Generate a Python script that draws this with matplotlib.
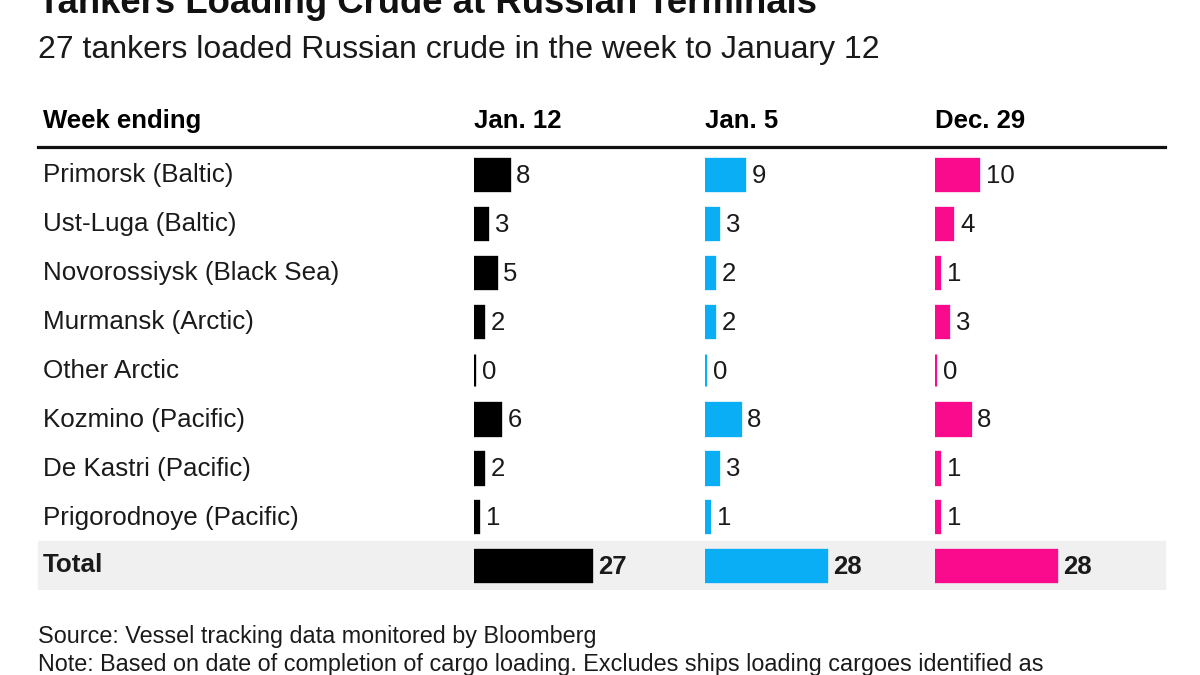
import numpy as np
import matplotlib.pyplot as plt

plt.rcParams['font.family'] = ['Liberation Sans', 'DejaVu Sans']

title = "Tankers Loading Crude at Russian Terminals"
subtitle = "27 tankers loaded Russian crude in the week to January 12"
terminals = ["Primorsk (Baltic)", "Ust-Luga (Baltic)", "Novorossiysk (Black Sea)",
             "Murmansk (Arctic)", "Other Arctic", "Kozmino (Pacific)",
             "De Kastri (Pacific)", "Prigorodnoye (Pacific)"]
weeks = ["Jan. 12", "Jan. 5", "Dec. 29"]
jan12 = [8, 3, 5, 2, 0, 6, 2, 1]
jan5 = [9, 3, 2, 2, 0, 8, 3, 1]
dec29 = [10, 4, 1, 3, 0, 8, 1, 1]
totals = [27, 28, 28]
source = "Source: Vessel tracking data monitored by Bloomberg"
note = "Note: Based on date of completion of cargo loading. Excludes ships loading cargoes identified as"

colors = ["#000000", "#0aaef5", "#fa0a8c"]
col_left = [474, 705, 935]   # pixel left edge of each bar column

W, H = 1200, 675
fig = plt.figure(figsize=(12, 6.75), dpi=100)

def fx(px):
    return px / W

def fy(px):
    return 1 - px / H

# titles
fig.text(fx(38), fy(13), title, fontsize=26.3, fontweight='bold', va='baseline', color='#111111')
fig.text(fx(38), fy(50), subtitle, fontsize=23, va='center', color='#1a1a1a')

# header
fig.text(fx(43), fy(121), "Week ending", fontsize=18.5, fontweight='bold', va='center')
for w, L in zip(weeks, col_left):
    fig.text(fx(L), fy(121), w, fontsize=18.5, fontweight='bold', va='center')

# row layout
row0, step = 174.5, 48.9
top_px = row0 - 0.5 * step
bot_px = row0 + 8.5 * step

# background axes for labels, rule and total band
bg = fig.add_axes([0, fy(bot_px), 1, (bot_px - top_px) / H])
bg.set_xlim(0, W)
bg.set_ylim(8.5, -0.5)
bg.axis('off')
bg.axhspan(7.5, 8.62, xmin=fx(38), xmax=fx(1165), color='#f0f0f0', zorder=0)
bg.plot([38, 1165], [-0.56, -0.56], color='#111111', lw=2.3, clip_on=False)
for i, t in enumerate(terminals):
    bg.text(43, i + 0.02, t, fontsize=18.7, va='center', color='#1a1a1a')
bg.text(43, 7.98, "Total", fontsize=18.7, fontweight='bold', va='center', color='#1a1a1a')

# bar columns
px_per_unit = 4.32
col_w = 210
series = [jan12, jan5, dec29]
for vals, tot, L, c in zip(series, totals, col_left, colors):
    ax = fig.add_axes([fx(L), fy(bot_px), col_w / W, (bot_px - top_px) / H])
    ax.set_xlim(0, col_w / px_per_unit)
    ax.set_ylim(8.5, -0.5)
    ax.axis('off')
    y = np.arange(len(vals))
    ax.barh(y, vals, height=0.64, color=c, edgecolor=c, linewidth=2.4, align='center')
    ax.barh([8], [tot], height=0.64, color=c, edgecolor=c, linewidth=2.4, align='center')
    for yi, v in zip(y, vals):
        ax.annotate(str(v), (v, yi + 0.03), xytext=(5.5, 0), textcoords='offset points',
                    fontsize=18.5, va='center', color='#1a1a1a')
    ax.annotate(str(tot), (tot, 8.02), xytext=(5.5, 0), textcoords='offset points',
                fontsize=18.5, fontweight='bold', va='center', color='#1a1a1a')

# footer
fig.text(fx(38), fy(636), source, fontsize=16.8, va='center', color='#1a1a1a')
fig.text(fx(38), fy(664), note, fontsize=16.8, va='center', color='#1a1a1a')

fig.savefig("out.png", dpi=100, facecolor='white')
